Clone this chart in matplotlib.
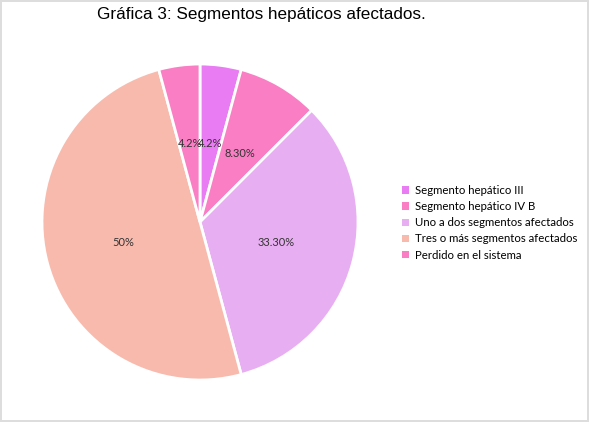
import numpy as np
import matplotlib.pyplot as plt
from matplotlib.patches import Patch

categorias = ["Segmento hepático III", "Segmento hepático IV B",
              "Uno a dos segmentos afectados", "Tres o más segmentos afectados",
              "Perdido en el sistema"]
valores = [4.2, 8.3, 33.3, 50, 4.2]
etiquetas = ["4.2%", "8.30%", "33.30%", "50%", "4.2%"]
colores = ["#E97CF2", "#F97EC4", "#E8AEF2", "#F8BAAD", "#F97EC4"]

fig = plt.figure(figsize=(5.89, 4.22), dpi=100)
fig.patch.set_edgecolor("#DDDDDD")
fig.patch.set_linewidth(1.5)

ax = fig.add_axes([0.0713, 0.0995, 0.5365, 0.7488])
wedges, _ = ax.pie(valores, colors=colores, startangle=90, counterclock=False,
                   wedgeprops=dict(edgecolor="white", linewidth=2))
# etiquetas dentro de cada porción, a media distancia del centro
for w, lab in zip(wedges, etiquetas):
    ang = np.deg2rad((w.theta1 + w.theta2) / 2)
    ax.text(0.5 * np.cos(ang), 0.5 * np.sin(ang), lab, ha="center", va="center",
            fontsize=8, color="#333333", family="Lato")
ax.set_xlim(-1, 1)
ax.set_ylim(-1, 1)
ax.set_aspect("equal")

fig.text(0.443, 0.965, "Gráfica 3: Segmentos hepáticos afectados.", ha="center",
         va="center", fontsize=12.3, family="Liberation Sans")

handles = [Patch(facecolor=c, edgecolor="none") for c in colores]
fig.legend(handles, categorias, loc="center left", bbox_to_anchor=(0.665, 0.472),
           frameon=False, prop={"family": "Lato", "size": 8.2},
           handlelength=0.65, handleheight=0.65, handletextpad=0.5, labelspacing=0.45)

fig.savefig("out.png", dpi=100)
